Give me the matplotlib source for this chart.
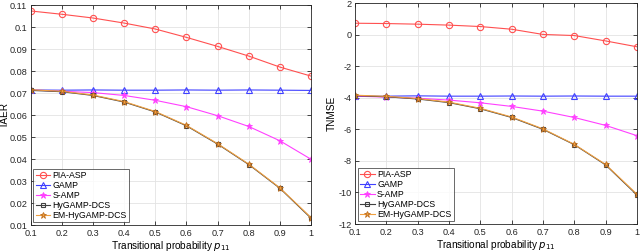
import matplotlib
matplotlib.use("Agg")
import matplotlib.pyplot as plt

plt.rcParams['font.family'] = ['Liberation Sans', 'DejaVu Sans']
plt.rcParams['axes.unicode_minus'] = False

p11 = [0.1, 0.2, 0.3, 0.4, 0.5, 0.6, 0.7, 0.8, 0.9, 1.0]

taer_pia = [0.1073, 0.1058, 0.1041, 0.1018, 0.0991, 0.0953, 0.0912, 0.0868, 0.0818, 0.0777]
taer_gamp = [0.0714, 0.0713, 0.0714, 0.0713, 0.0713, 0.0714, 0.0713, 0.0714, 0.0713, 0.0712]
taer_samp = [0.0714, 0.0708, 0.0702, 0.0689, 0.0667, 0.0638, 0.0597, 0.0548, 0.0483, 0.0399]
taer_hy = [0.0712, 0.0706, 0.0689, 0.0659, 0.0614, 0.0551, 0.0468, 0.0375, 0.0267, 0.0131]
taer_em = [0.0715, 0.0708, 0.0691, 0.0661, 0.0616, 0.0553, 0.0470, 0.0377, 0.0269, 0.0134]

tnmse_pia = [0.72, 0.70, 0.66, 0.60, 0.51, 0.34, 0.01, -0.06, -0.40, -0.77]
tnmse_gamp = [-3.92, -3.90, -3.88, -3.90, -3.90, -3.89, -3.90, -3.89, -3.90, -3.90]
tnmse_samp = [-3.90, -3.96, -4.03, -4.15, -4.32, -4.55, -4.85, -5.25, -5.75, -6.40]
tnmse_hy = [-3.87, -3.94, -4.08, -4.31, -4.70, -5.25, -6.00, -6.97, -8.25, -10.15]
tnmse_em = [-3.84, -3.91, -4.05, -4.28, -4.67, -5.22, -5.97, -6.95, -8.22, -10.10]

names = ['PIA-ASP', 'GAMP', 'S-AMP', 'HyGAMP-DCS', 'EM-HyGAMP-DCS']
styles = [
    dict(color='#ff5050', marker='o', mfc='none', ms=4.5, mew=0.8),
    dict(color='#4040ff', marker='^', mfc='none', ms=4.5, mew=0.8),
    dict(color='#ff40ff', marker='*', ms=5, mew=0.6),
    dict(color='#404040', marker='s', mfc='none', ms=3.5, mew=0.8),
    dict(color='#f0a040', marker='*', ms=4.5, mew=0.6, mec='#c07020'),
]

fig = plt.figure(figsize=(6.4, 2.52), dpi=100)
ax1 = fig.add_axes([0.048, 0.107, 0.438, 0.873])
ax2 = fig.add_axes([0.555, 0.111, 0.440, 0.877])

def style_ax(ax):
    ax.grid(True, color='#e3e3e3', linewidth=0.6)
    ax.set_axisbelow(True)
    ax.tick_params(direction='in', labelsize=6.6, colors='#262626', length=3, width=0.6,
                   top=True, right=True, pad=2.5)
    for s in ax.spines.values():
        s.set_color('#262626')
        s.set_linewidth(0.6)
    ax.set_xlim(0.1, 1.0)
    ax.set_xticks(p11)
    ax.set_xticklabels(['0.1', '0.2', '0.3', '0.4', '0.5', '0.6', '0.7', '0.8', '0.9', '1'])
    ax.set_xlabel('Transitional probability $p_{11}$', fontsize=7.2, labelpad=1)

for data, ax in [((taer_pia, taer_gamp, taer_samp, taer_hy, taer_em), ax1),
                 ((tnmse_pia, tnmse_gamp, tnmse_samp, tnmse_hy, tnmse_em), ax2)]:
    for y, n, st in zip(data, names, styles):
        ax.plot(p11, y, label=n, linewidth=0.8, **st)
    style_ax(ax)
    leg = ax.legend(loc='lower left', fontsize=6.3, frameon=True, fancybox=False,
                    edgecolor='#262626', borderpad=0.25, labelspacing=0.12,
                    handlelength=1.7, handletextpad=0.25, borderaxespad=0.3)
    leg.get_frame().set_linewidth(0.6)

ax1.set_ylim(0.01, 0.11)
ax1.set_yticks([0.01, 0.02, 0.03, 0.04, 0.05, 0.06, 0.07, 0.08, 0.09, 0.1, 0.11])
ax1.set_yticklabels(['0.01', '0.02', '0.03', '0.04', '0.05', '0.06', '0.07', '0.08', '0.09', '0.1', '0.11'])
ax1.set_ylabel('TAER', fontsize=7.2)
ax1.yaxis.set_label_coords(-0.075, 0.5)

ax2.set_ylim(-12, 2)
ax2.set_yticks([-12, -10, -8, -6, -4, -2, 0, 2])
ax2.set_ylabel('TNMSE', fontsize=7.2, labelpad=1)

fig.savefig('out.png', dpi=100)
